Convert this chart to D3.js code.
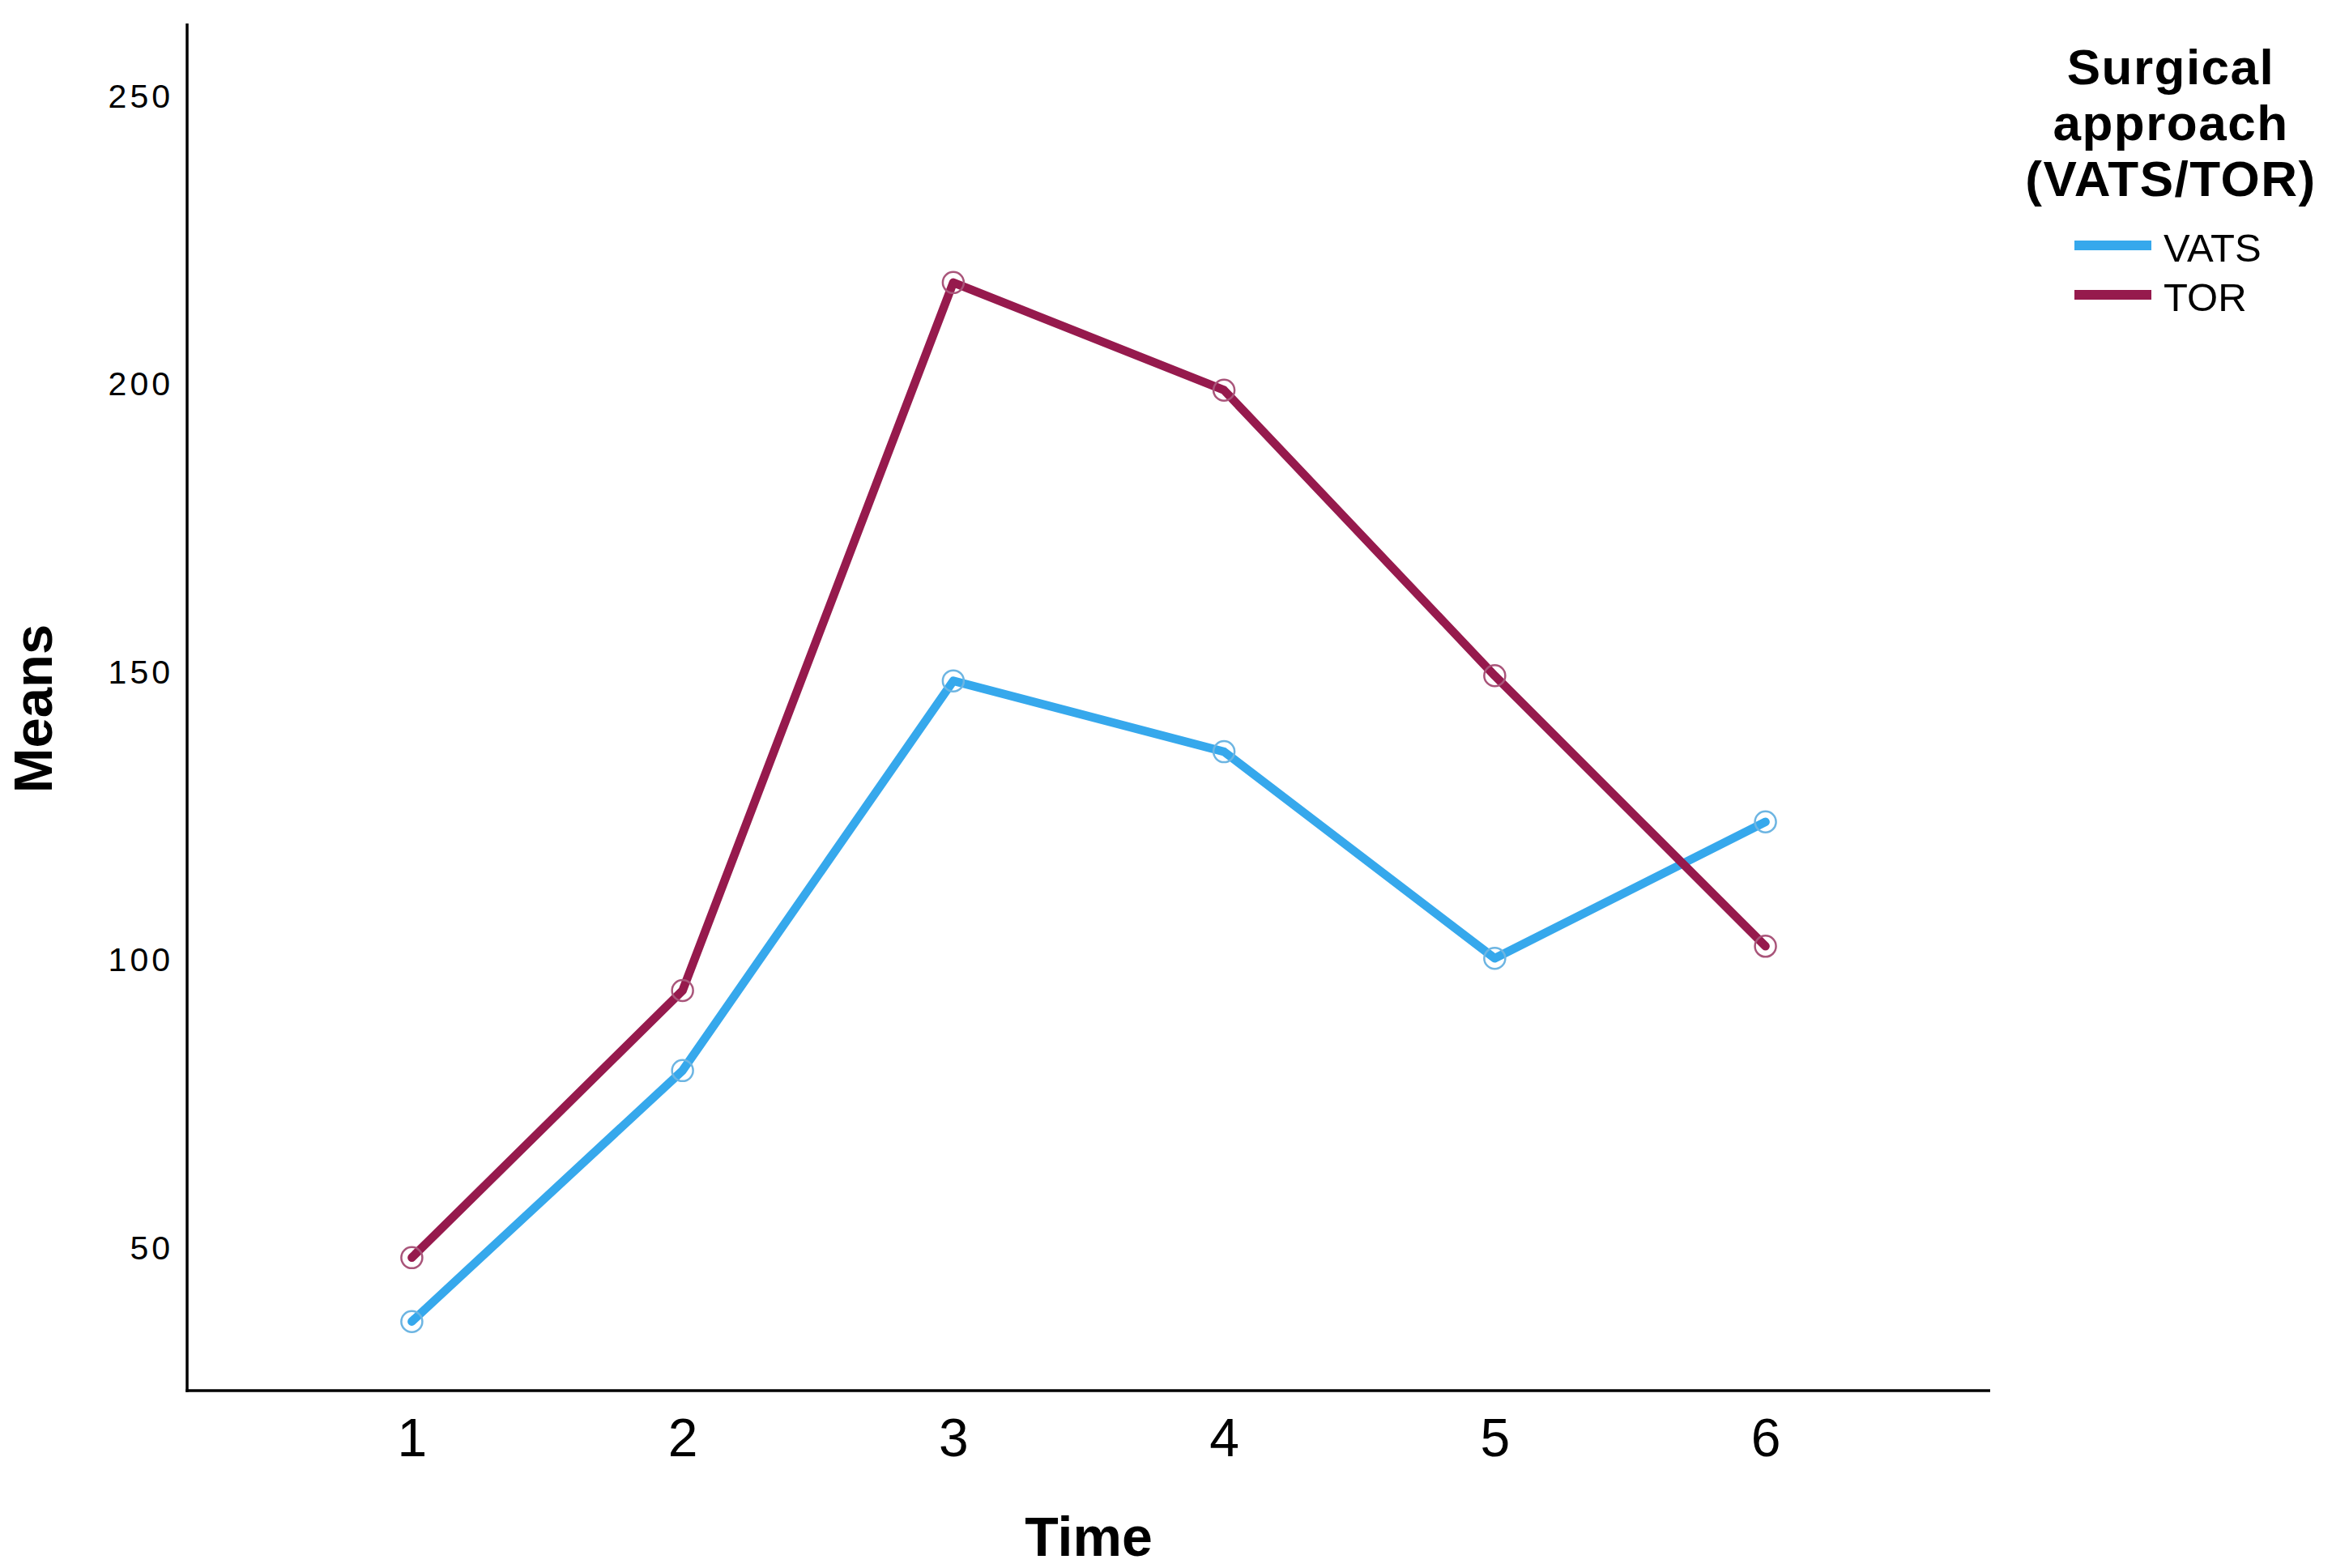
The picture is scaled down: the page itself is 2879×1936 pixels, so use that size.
<!DOCTYPE html>
<html>
<head>
<meta charset="utf-8">
<script src="https://cdn.jsdelivr.net/npm/d3@7"></script>
<style>
  html, body { margin: 0; padding: 0; background: #fff; }
  svg { display: block; }
  text { font-family: "Liberation Sans", Arial, sans-serif; fill: #000; }
</style>
</head>
<body>
<svg id="chart" width="2879" height="1936"></svg>
<script>
// ---- data ----
const categories = [1, 2, 3, 4, 5, 6];
const vatsValues = [37.0, 80.6, 148.3, 136.0, 100.1, 123.8];
const torValues  = [48.1, 94.5, 217.5, 198.8, 149.2, 102.2];
const seriesNames = ["VATS", "TOR"];
const yTickValues = [50, 100, 150, 200, 250];
const xAxisTitle = "Time";
const yAxisTitle = "Means";
const legendTitle = ["Surgical", "approach", "(VATS/TOR)"];

// ---- layout ----
const plotLeft = 231, plotRight = 2457, plotTop = 29, plotBottom = 1717;
const colors = { VATS: "#36a8ec", TOR: "#961a4d" };
const markerColors = { VATS: "#6db5e2", TOR: "#a9557a" };

const svg = d3.select("#chart");

const x = d3.scaleLinear().domain([0.17, 6.83]).range([plotLeft, plotRight]);
const y = d3.scaleLinear().domain([25, 262.5]).range([plotBottom, plotTop]);

// y axis
const yAxis = svg.append("g")
  .attr("transform", `translate(${plotLeft},0)`)
  .call(d3.axisLeft(y).tickValues(yTickValues).tickSize(0).tickPadding(17));
yAxis.select(".domain").remove();
yAxis.selectAll("text")
  .attr("font-family", "Liberation Sans, Arial, sans-serif")
  .attr("font-size", 41)
  .attr("letter-spacing", 4)
  .attr("dy", "0.36em")
  .attr("fill", "#111");

// x axis
const xAxis = svg.append("g")
  .attr("transform", `translate(0,${plotBottom})`)
  .call(d3.axisBottom(x).tickValues(categories).tickSize(0).tickPadding(34).tickFormat(d3.format("d")));
xAxis.select(".domain").remove();
xAxis.selectAll("text")
  .attr("font-family", "Liberation Sans, Arial, sans-serif")
  .attr("font-size", 66)
  .attr("fill", "#000");

// axis lines
svg.append("line").attr("x1", plotLeft).attr("x2", plotLeft).attr("y1", plotTop).attr("y2", plotBottom + 1.75)
  .attr("stroke", "#000").attr("stroke-width", 3.5);
svg.append("line").attr("x1", plotLeft - 1.75).attr("x2", plotRight).attr("y1", plotBottom).attr("y2", plotBottom)
  .attr("stroke", "#000").attr("stroke-width", 3.5);

// axis titles
svg.append("text")
  .attr("x", (plotLeft + plotRight) / 2).attr("y", 1921)
  .attr("text-anchor", "middle")
  .attr("font-weight", "bold").attr("font-size", 68)
  .text(xAxisTitle);

svg.append("text")
  .attr("transform", "translate(64,875) rotate(-90)")
  .attr("text-anchor", "middle")
  .attr("font-weight", "bold").attr("font-size", 67)
  .text(yAxisTitle);

// series
const series = [
  { name: "VATS", values: vatsValues },
  { name: "TOR", values: torValues }
];
const line = d3.line().x((d, i) => x(categories[i])).y(d => y(d));

series.forEach(s => {
  const g = svg.append("g");
  g.append("path")
    .datum(s.values)
    .attr("d", line)
    .attr("fill", "none")
    .attr("stroke", colors[s.name])
    .attr("stroke-width", 10.5)
    .attr("stroke-linejoin", "round")
    .attr("stroke-linecap", "round");
  g.selectAll("circle")
    .data(s.values)
    .join("circle")
    .attr("cx", (d, i) => x(categories[i]))
    .attr("cy", d => y(d))
    .attr("r", 13)
    .attr("fill", "none")
    .attr("stroke", markerColors[s.name])
    .attr("stroke-width", 2.5);
});

// legend
const lg = svg.append("g");
const titleBaselines = [104, 173, 242];
legendTitle.forEach((t, i) => {
  lg.append("text")
    .attr("x", 2680).attr("y", titleBaselines[i])
    .attr("text-anchor", "middle")
    .attr("font-weight", "bold").attr("font-size", 62)
    .attr("letter-spacing", 1.5)
    .text(t);
});
const legendY = [303, 364];
series.forEach((s, i) => {
  lg.append("line")
    .attr("x1", 2561).attr("x2", 2656)
    .attr("y1", legendY[i]).attr("y2", legendY[i])
    .attr("stroke", colors[s.name]).attr("stroke-width", 12);
  lg.append("text")
    .attr("x", 2671).attr("y", legendY[i] + 20)
    .attr("font-size", 49)
    .text(s.name);
});
</script>
</body>
</html>
